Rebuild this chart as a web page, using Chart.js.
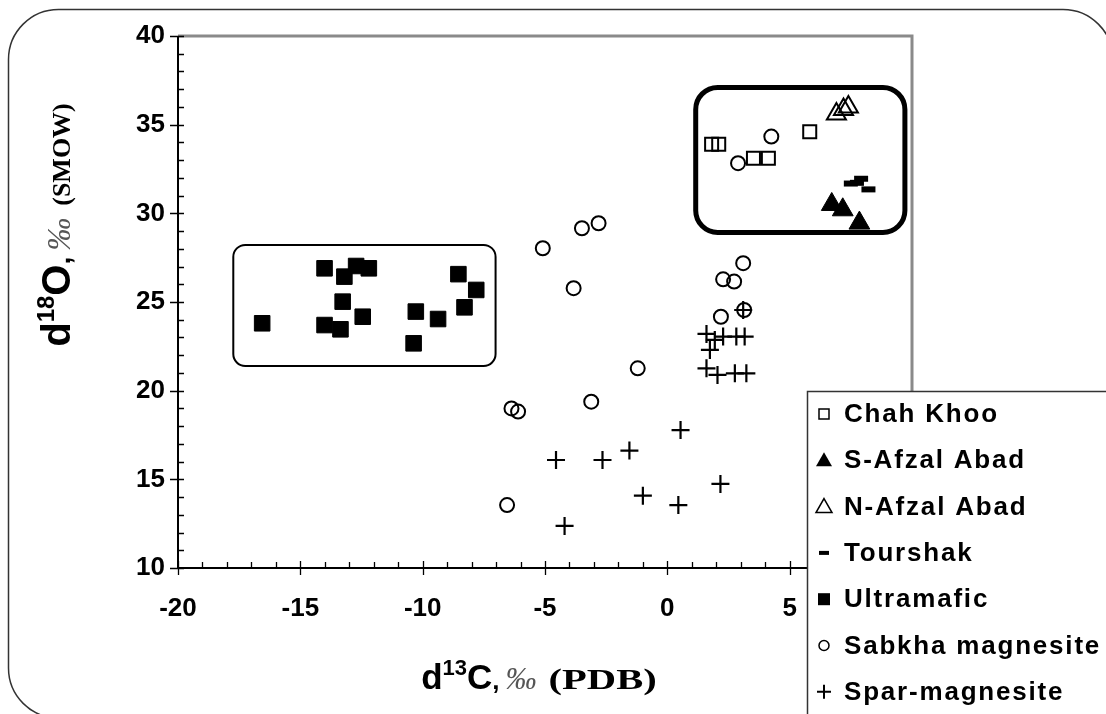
<!DOCTYPE html>
<html><head><meta charset="utf-8">
<script src="https://cdn.jsdelivr.net/npm/chart.js@4"></script>
<style>html,body{margin:0;padding:0;background:#fff;} #wrap{width:1106px;height:714px;position:relative;}</style>
</head><body><div id="wrap"><canvas id="c" width="1106" height="714"></canvas></div>
<script>
// ---------- data ----------
const seriesNames = ['Chah Khoo','S-Afzal Abad','N-Afzal Abad','Tourshak','Ultramafic','Sabkha magnesite','Spar-magnesite'];
const xTickValues = [-20,-15,-10,-5,0,5];
const yTickValues = [10,15,20,25,30,35,40];

const chahKhooX = [1.81, 2.10, 3.52, 4.13, 5.82];
const chahKhooY = [33.9, 33.9, 33.1, 33.1, 34.6];

const sAfzalX = [6.72, 7.17, 7.85];
const sAfzalY = [30.5, 30.2, 29.45];

const nAfzalX = [6.91, 7.20, 7.40];
const nAfzalY = [35.6, 35.85, 36.0];

const tourshakX = [7.50, 7.75, 7.92, 8.22];
const tourshakY = [31.68, 31.72, 31.95, 31.35];

const ultramaficX = [-16.56,-14.01,-13.20,-12.72,-12.20,-13.27,-12.45,-14.01,-13.36,-10.28,-10.37,-9.37,-8.54,-7.81,-8.29];
const ultramaficY = [23.8, 26.9, 26.43, 27.03, 26.9, 25.02, 24.17, 23.7, 23.46, 24.46, 22.67, 24.04, 26.57, 25.68, 24.7];

const sabkhaX = [4.25, 2.89, -3.49, -2.81, -5.09, -3.83, 3.10, 2.28, 2.73, 2.19, 3.14, -1.21, -3.11, -6.37, -6.10, -6.55];
const sabkhaY = [34.33, 32.83, 29.16, 29.44, 28.03, 25.78, 27.19, 26.28, 26.15, 24.17, 24.55, 21.26, 19.38, 19.0, 18.82, 13.55];

const sparX = [1.60, 1.94, 2.28, 2.82, 3.16, 1.74, 1.60, 2.05, 2.76, 3.23, 3.10, -4.55, -2.65, -1.55, 0.54, 2.17, -1.0, 0.45, -4.20];
const sparY = [23.2, 22.86, 23.05, 23.05, 23.05, 22.3, 21.26, 20.89, 20.98, 20.98, 24.55, 16.09, 16.09, 16.62, 17.78, 14.74, 14.08, 13.55, 12.37];

// group outlines (data units)
const leftGroupBox = {xMin: -17.74, xMax: -7.02, yMin: 21.39, yMax: 28.22};
const rightGroupBox = {xMin: 1.16, xMax: 9.71, yMin: 28.92, yMax: 37.1};

// ---------- build ----------
const pts = (xs, ys) => xs.map((x, i) => ({x: x, y: ys[i]}));
const T = 'rgba(0,0,0,0)';
const datasets = [
  {label: seriesNames[0], data: pts(chahKhooX, chahKhooY), pointStyle: 'rect', pointRadius: 9.2, borderWidth: 2, borderColor: '#000', backgroundColor: T},
  {label: seriesNames[1], data: pts(sAfzalX, sAfzalY), pointStyle: 'triangle', pointRadius: 12, borderWidth: 1, borderColor: '#000', backgroundColor: '#000'},
  {label: seriesNames[2], data: pts(nAfzalX, nAfzalY), pointStyle: 'triangle', pointRadius: 11, borderWidth: 2, borderColor: '#000', backgroundColor: T},
  {label: seriesNames[3], data: pts(tourshakX, tourshakY), pointStyle: 'line', pointRadius: 7, borderWidth: 6, borderColor: '#000', backgroundColor: '#000'},
  {label: seriesNames[4], data: pts(ultramaficX, ultramaficY), pointStyle: 'rect', pointRadius: 11, borderWidth: 1, borderColor: '#000', backgroundColor: '#000'},
  {label: seriesNames[5], data: pts(sabkhaX, sabkhaY), pointStyle: 'circle', pointRadius: 7, borderWidth: 2, borderColor: '#000', backgroundColor: T},
  {label: seriesNames[6], data: pts(sparX, sparY), pointStyle: 'cross', pointRadius: 9, borderWidth: 2.2, borderColor: '#000', backgroundColor: '#000'}
];

function drawRich(ctx, parts, x, y, angle) {
  ctx.save();
  ctx.translate(x, y);
  ctx.rotate(angle);
  let total = 0;
  parts.forEach(p => { ctx.font = p.font; p.w = ctx.measureText(p.t).width * (p.sx || 1); total += p.w + (p.gap || 0); });
  let cx = -total / 2;
  parts.forEach(p => {
    cx += (p.gap || 0);
    ctx.save();
    ctx.translate(cx, p.dy || 0);
    ctx.scale(p.sx || 1, 1);
    ctx.font = p.font;
    ctx.fillStyle = p.color || '#000';
    ctx.textBaseline = 'alphabetic';
    ctx.textAlign = 'left';
    ctx.fillText(p.t, 0, 0);
    ctx.restore();
    cx += p.w;
  });
  ctx.restore();
}

function roundRectPath(ctx, x0, y0, x1, y1, r) {
  ctx.beginPath();
  ctx.moveTo(x0 + r, y0);
  ctx.lineTo(x1 - r, y0);
  ctx.arcTo(x1, y0, x1, y0 + r, r);
  ctx.lineTo(x1, y1 - r);
  ctx.arcTo(x1, y1, x1 - r, y1, r);
  ctx.lineTo(x0 + r, y1);
  ctx.arcTo(x0, y1, x0, y1 - r, r);
  ctx.lineTo(x0, y0 + r);
  ctx.arcTo(x0, y0, x0 + r, y0, r);
  ctx.closePath();
}

const decorPlugin = {
  id: 'decor',
  beforeDraw(chart) {
    const ctx = chart.ctx;
    ctx.save();
    ctx.fillStyle = '#fff';
    ctx.fillRect(0, 0, chart.width, chart.height);
    roundRectPath(ctx, 8.5, 9.5, 1113, 718, 50);
    ctx.strokeStyle = '#333';
    ctx.lineWidth = 1.5;
    ctx.stroke();
    ctx.restore();
  },
  beforeDatasetsDraw(chart) {
    const ctx = chart.ctx;
    const xs = chart.scales.x, ys = chart.scales.y;
    const a = chart.chartArea;
    ctx.save();
    ctx.strokeStyle = '#8a8a8a';
    ctx.lineWidth = 3;
    ctx.beginPath();
    ctx.moveTo(a.left, a.top);
    ctx.lineTo(a.right, a.top);
    ctx.lineTo(a.right, a.bottom);
    ctx.stroke();
    ctx.strokeStyle = '#000';
    ctx.lineWidth = 2;
    ctx.beginPath();
    ctx.moveTo(a.left, a.top);
    ctx.lineTo(a.left, a.bottom);
    ctx.lineTo(a.right, a.bottom);
    ctx.stroke();
    ctx.lineWidth = 1.3;
    ctx.beginPath();
    for (let v = xs.min; v <= xs.max; v++) {
      const px = Math.round(xs.getPixelForValue(v)) + 0.5;
      if (v % 5 === 0) { ctx.moveTo(px, a.bottom + 7); ctx.lineTo(px, a.bottom - 7); }
      else { ctx.moveTo(px, a.bottom); ctx.lineTo(px, a.bottom - 6); }
    }
    for (let v = ys.min; v <= ys.max; v++) {
      const py = Math.round(ys.getPixelForValue(v)) + 0.5;
      if (v % 5 === 0) { ctx.moveTo(a.left - 8, py); ctx.lineTo(a.left + 6, py); }
      else { ctx.moveTo(a.left, py); ctx.lineTo(a.left + 6, py); }
    }
    ctx.stroke();
    const box = (b, lw, r) => {
      const x0 = xs.getPixelForValue(b.xMin), x1 = xs.getPixelForValue(b.xMax);
      const y0 = ys.getPixelForValue(b.yMax), y1 = ys.getPixelForValue(b.yMin);
      roundRectPath(ctx, x0, y0, x1, y1, r);
      ctx.lineWidth = lw;
      ctx.strokeStyle = '#000';
      ctx.stroke();
    };
    box(leftGroupBox, 2, 12);
    box(rightGroupBox, 5, 22);
    ctx.restore();
  },
  afterDraw(chart) {
    const ctx = chart.ctx;
    drawRich(ctx, [
      {t: 'd', font: 'bold 35px "Liberation Sans"'},
      {t: '13', font: 'bold 22px "Liberation Sans"', dy: -14},
      {t: 'C', font: 'bold 35px "Liberation Sans"'},
      {t: ',', font: 'bold 26px "Liberation Sans"'},
      {t: '\u2030', font: 'italic 31px "Liberation Serif"', color: '#555', gap: 6},
      {t: '(PDB)', font: 'bold 29px "Liberation Serif"', sx: 1.4, gap: 12}
    ], 539, 689, 0);
    drawRich(ctx, [
      {t: 'd', font: 'bold 40px "Liberation Sans"'},
      {t: '18', font: 'bold 24px "Liberation Sans"', dy: -16},
      {t: 'O', font: 'bold 40px "Liberation Sans"'},
      {t: ',', font: 'bold 28px "Liberation Sans"'},
      {t: '\u2030', font: 'italic 33px "Liberation Serif"', color: '#555', gap: 6},
      {t: '(SMOW)', font: 'bold 26px "Liberation Serif"', gap: 12}
    ], 70, 225, -Math.PI / 2);

    ctx.save();
    ctx.fillStyle = '#fff';
    ctx.fillRect(807, 391, 320, 340);
    ctx.strokeStyle = '#333';
    ctx.lineWidth = 1.5;
    ctx.strokeRect(807.5, 391.5, 320, 340);
    const mx = 824, tx = 844, y0 = 414, dy = 46.3;
    ctx.font = 'bold 26px "Liberation Sans"';
    try { ctx.letterSpacing = '1.8px'; } catch (e) {}
    ctx.textBaseline = 'middle';
    ctx.textAlign = 'left';
    ctx.fillStyle = '#000';
    ctx.strokeStyle = '#000';
    seriesNames.forEach((name, i) => {
      const y = y0 + i * dy;
      ctx.fillText(name, tx, y + 1);
      ctx.lineWidth = 1.5;
      ctx.beginPath();
      if (i === 0) { ctx.strokeRect(mx - 5, y - 5, 10, 10); }
      else if (i === 1 || i === 2) {
        ctx.moveTo(mx, y - 8); ctx.lineTo(mx + 8, y + 6); ctx.lineTo(mx - 8, y + 6); ctx.closePath();
        if (i === 1) ctx.fill(); else ctx.stroke();
      }
      else if (i === 3) { ctx.fillRect(mx - 5, y - 2, 10, 4); }
      else if (i === 4) { ctx.fillRect(mx - 6, y - 6, 12, 12); }
      else if (i === 5) { ctx.arc(mx, y, 5, 0, Math.PI * 2); ctx.stroke(); }
      else { ctx.lineWidth = 2; ctx.moveTo(mx - 7, y); ctx.lineTo(mx + 7, y); ctx.moveTo(mx, y - 7); ctx.lineTo(mx, y + 7); ctx.stroke(); }
    });
    ctx.restore();
  }
};

new Chart(document.getElementById('c'), {
  type: 'scatter',
  data: {datasets: datasets},
  options: {
    responsive: false,
    animation: false,
    events: [],
    layout: {padding: {top: 36, right: 194, left: 0, bottom: 0}},
    plugins: {legend: {display: false}, tooltip: {enabled: false}},
    scales: {
      x: {
        type: 'linear', min: -20, max: 10,
        grid: {display: false, drawTicks: false},
        border: {display: false},
        ticks: {
          stepSize: 5, padding: 25, color: '#000',
          font: {family: 'Liberation Sans', weight: 'bold', size: 26},
          callback: v => xTickValues.includes(v) ? String(v) : ''
        },
        afterFit: s => { s.height = 146; }
      },
      y: {
        type: 'linear', min: 10, max: 40,
        grid: {display: false, drawTicks: false},
        border: {display: false},
        ticks: {
          stepSize: 5, padding: 13, color: '#000',
          font: {family: 'Liberation Sans', weight: 'bold', size: 26},
          callback: v => yTickValues.includes(v) ? String(v) : ''
        },
        afterFit: s => { s.width = 178; }
      }
    }
  },
  plugins: [decorPlugin]
});
</script>
</body></html>
